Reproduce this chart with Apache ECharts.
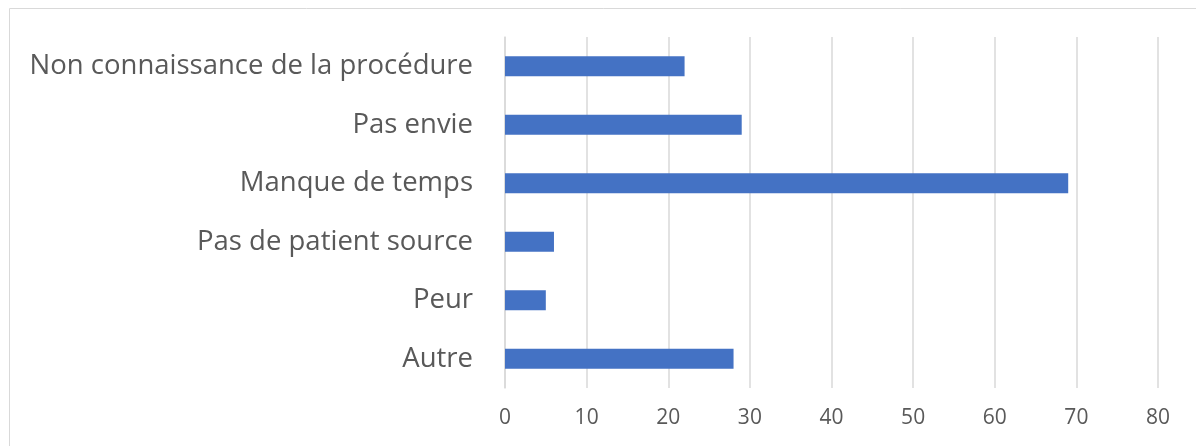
<!DOCTYPE html>
<html>
<head>
<meta charset="utf-8">
<script src="https://cdn.jsdelivr.net/npm/echarts@6/dist/echarts.min.js"></script>
<style>
  html, body { margin: 0; padding: 0; background: #fff; }
  #chart { width: 1196px; height: 446px; }
</style>
</head>
<body>
<div id="chart"></div>
<script>
// Categories listed bottom to top (category axis on y starts at the bottom)
const categories = ['Autre', 'Peur', 'Pas de patient source', 'Manque de temps', 'Pas envie', 'Non connaissance de la procédure'];
const values = [28, 5, 6, 69, 29, 22];
const xTicks = { min: 0, max: 80, interval: 10 };

const chart = echarts.init(document.getElementById('chart'));
chart.setOption({
    animation: false,
    textStyle: { fontFamily: 'Open Sans' },
    graphic: [
        {
            type: 'rect',
            shape: { x: 9.5, y: 8.5, width: 1200, height: 460 },
            style: { fill: 'none', stroke: '#d9d9d9', lineWidth: 1 }
        }
    ],
    grid: { left: 505, right: 38, top: 37, bottom: 58 },
    xAxis: {
        type: 'value',
        min: xTicks.min,
        max: xTicks.max,
        interval: xTicks.interval,
        axisLine: { show: false },
        axisTick: { show: false },
        splitLine: { lineStyle: { color: '#d9d9d9', width: 1.5 } },
        axisLabel: { color: '#595959', fontSize: 21, margin: 20 }
    },
    yAxis: {
        type: 'category',
        data: categories,
        axisLine: { show: true, lineStyle: { color: '#d9d9d9', width: 1.5 } },
        axisTick: { show: false },
        axisLabel: { color: '#595959', fontSize: 27.5, margin: 32 }
    },
    series: [
        {
            type: 'bar',
            data: values,
            barWidth: 20,
            itemStyle: { color: '#4472c4' }
        }
    ]
});
</script>
</body>
</html>
